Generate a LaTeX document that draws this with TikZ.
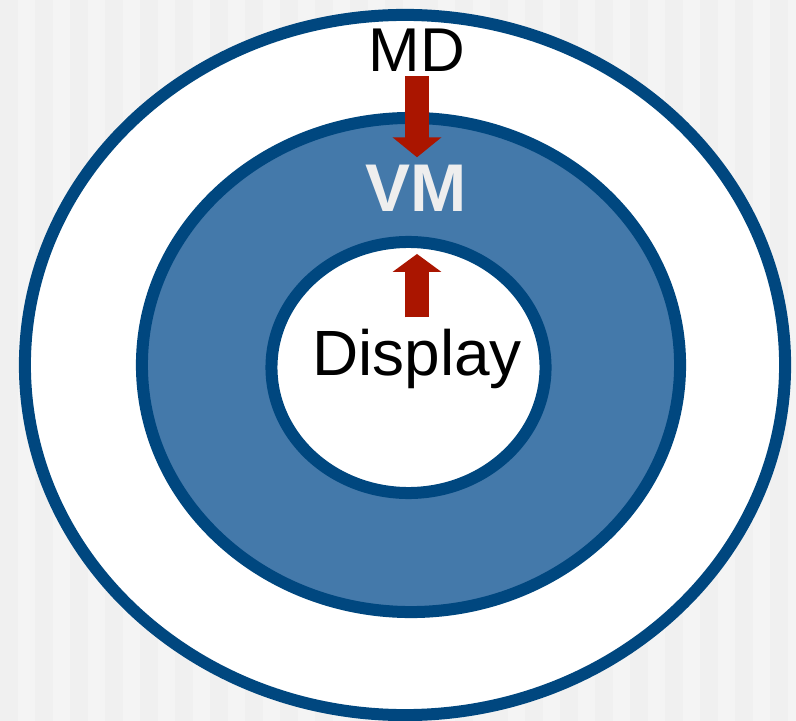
\documentclass[tikz,border=0pt]{standalone}
\usepackage{fontspec}
\setmainfont{Liberation Sans}
\usepackage{tikz}
\usetikzlibrary{shapes.geometric, arrows.meta, positioning}
\definecolor{ringblue}{HTML}{00477F}
\definecolor{vmfill}{HTML}{4479AA}
\definecolor{arrowred}{HTML}{AA1500}
\definecolor{vmtext}{HTML}{EEEEEE}
\definecolor{stripea}{HTML}{F4F4F4}
\definecolor{stripeb}{HTML}{F0F0F0}

\begin{document}
\begin{tikzpicture}[x=0.025cm, y=-0.025cm]
	\useasboundingbox (0,0) rectangle (796,721);
	\fill[stripea] (0,0) rectangle (796,721);
	\foreach \i in {0,...,22}
		\fill[stripeb] (\i*35,0) rectangle (\i*35+17.5,721);

	\begin{scope}[every node/.style={draw=ringblue,ellipse,line width=0.3cm,inner sep=0}]
	\node[fill=white, minimum width=19cm, minimum height=17.5cm] (outer) at (405,365) {};
	\node[fill=vmfill, minimum width=13.45cm, minimum height=12.35cm] (middle) at (411,365) {};
	\node[fill=white, minimum width=6.85cm, minimum height=6.275cm] (inner) at (408.5,367.5) {};
	\end{scope}

	\begin{scope}[every node/.style={anchor=base,inner sep=0}]
	\node[font=\fontsize{44}{48}\selectfont] (md) at (417,72) {MD};
	\node[font=\bfseries\fontsize{48}{52}\selectfont, text=vmtext] (vm) at (416,212) {VM};
	\node[font=\fontsize{45.5}{50}\selectfont] (display) at (417,375) {Display};
	\end{scope}

	\coordinate[below=0.1cm of md.south] (mdfoot);
	\coordinate[above=0.2cm of vm.north] (vmtop);
	\coordinate[above=0.275cm of display.north] (disptop);
	\coordinate[below=0.45cm of inner.north] (innertop);

	\draw[-{Triangle[width=1.2cm,length=0.5cm]}, line width=0.6cm, arrowred] (mdfoot) to (mdfoot |- vmtop);
	\draw[-{Triangle[width=1.2cm,length=0.45cm]}, line width=0.6cm, arrowred] (disptop) to (disptop |- innertop);
\end{tikzpicture}
\end{document}
